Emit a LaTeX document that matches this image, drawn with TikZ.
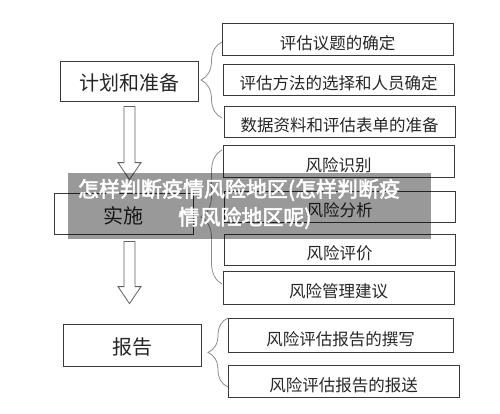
\documentclass[tikz,border=0pt]{standalone}
\usepackage{fontspec}
\setmainfont{Noto Sans CJK SC}
\newfontfamily\wmfont[FakeBold=2.5]{Noto Sans CJK SC}
\usetikzlibrary{calc,decorations.pathreplacing}
\definecolor{boxline}{HTML}{3A3A3A}
\definecolor{braceline}{HTML}{8C8C8C}
\newcommand{\lowtxt}[1]{\raisebox{-10pt}[0pt][0pt]{#1}}
\newcommand{\lowmain}[1]{\raisebox{-9.5pt}[0pt][0pt]{#1}}
\tikzset{
  mainbox/.style={draw=boxline, line width=0.8pt, inner sep=0pt, font=\fontsize{20}{22}\selectfont, text=black!85},
  subbox/.style={draw=boxline, line width=0.8pt, inner sep=0pt, minimum width=231pt, font=\fontsize{16.5}{18}\selectfont, text=black!85},
  blockarrow/.style={draw=boxline!80, line width=0.8pt, fill=white},
  bracestyle/.style={draw=braceline, line width=0.8pt, decorate},
  wmtext/.style={text=white, font=\wmfont\fontsize{21}{28}\selectfont, inner sep=0pt}
}
\begin{document}
\begin{tikzpicture}[x=1pt,y=-1pt]
\useasboundingbox (0,0) rectangle (500,413);
% left boxes
\node[mainbox, minimum width=138pt, minimum height=40pt] (plan) at (129,81) {\lowmain{计划和准备}};
\node[mainbox, minimum width=139pt, minimum height=41pt] (impl) at (123.5,213.5) {\lowmain{实施}};
\node[mainbox, minimum width=138pt, minimum height=42pt] (report) at (132,345) {\lowmain{报告}};
% right boxes
\node[subbox, minimum height=32pt] (r1) at (337.5,39) {\lowtxt{评估议题的确定}};
\node[subbox, minimum height=31pt] (r2) at (338.5,79.5) {\lowtxt{评估方法的选择和人员确定}};
\node[subbox, minimum height=31pt] (r3) at (339.5,121.5) {\lowtxt{数据资料和评估表单的准备}};
\node[subbox, minimum height=32pt] (r4) at (338.5,161) {\lowtxt{风险识别}};
\node[subbox, minimum height=31pt] (r5) at (339.5,206.5) {\lowtxt{风险分析}};
\node[subbox, minimum height=31pt] (r6) at (339.5,249.5) {\lowtxt{风险评价}};
\node[subbox, minimum height=33pt] (r7) at (338.5,287.5) {\lowtxt{风险管理建议}};
\node[subbox, minimum width=225pt, minimum height=34pt] (r8) at (340.5,335) {\lowtxt{风险评估报告的撰写}};
\node[subbox, minimum height=32pt] (r9) at (343.5,381) {\lowtxt{风险评估报告的报送}};
% hollow arrows
\coordinate (a1s) at ($(plan.south)+(0.5,5)$);
\coordinate (a1t) at ($(impl.north)+(6,-13)$);
\draw[blockarrow] ($(a1s)+(-5.5,0)$) -- ($(a1s)+(5.5,0)$) -- ($(a1t)+(5.5,-17)$) -- ($(a1t)+(11.5,-17)$) -- (a1t) -- ($(a1t)+(-11.5,-17)$) -- ($(a1t)+(-5.5,-17)$) -- cycle;
\coordinate (a2s) at ($(impl.south)+(6,7)$);
\coordinate (a2t) at ($(report.north)+(-2.5,-20)$);
\draw[blockarrow] ($(a2s)+(-5.5,0)$) -- ($(a2s)+(5.5,0)$) -- ($(a2t)+(5.5,-17)$) -- ($(a2t)+(11.5,-17)$) -- (a2t) -- ($(a2t)+(-11.5,-17)$) -- ($(a2t)+(-5.5,-17)$) -- cycle;
% braces
\coordinate (b1a) at (222,118); \coordinate (b1b) at (222,42);
\draw[bracestyle, decoration={brace, amplitude=21pt}] (b1a) -- (b1b);
\coordinate (b2a) at (222,284); \coordinate (b2b) at (222,150);
\draw[bracestyle, decoration={brace, amplitude=21pt}] (b2a) -- (b2b);
\coordinate (b3a) at (228,387); \coordinate (b3b) at (228,318);
\draw[bracestyle, decoration={brace, amplitude=20pt}] (b3a) -- (b3b);
% watermark
\fill[black, opacity=0.4] (68,173) rectangle (431,239);
\node[wmtext] (wm1) at (239,190) {怎样判断疫情风险地区(怎样判断疫};
\node[wmtext] (wm2) at (245,218) {情风险地区呢)};
\end{tikzpicture}
\end{document}
